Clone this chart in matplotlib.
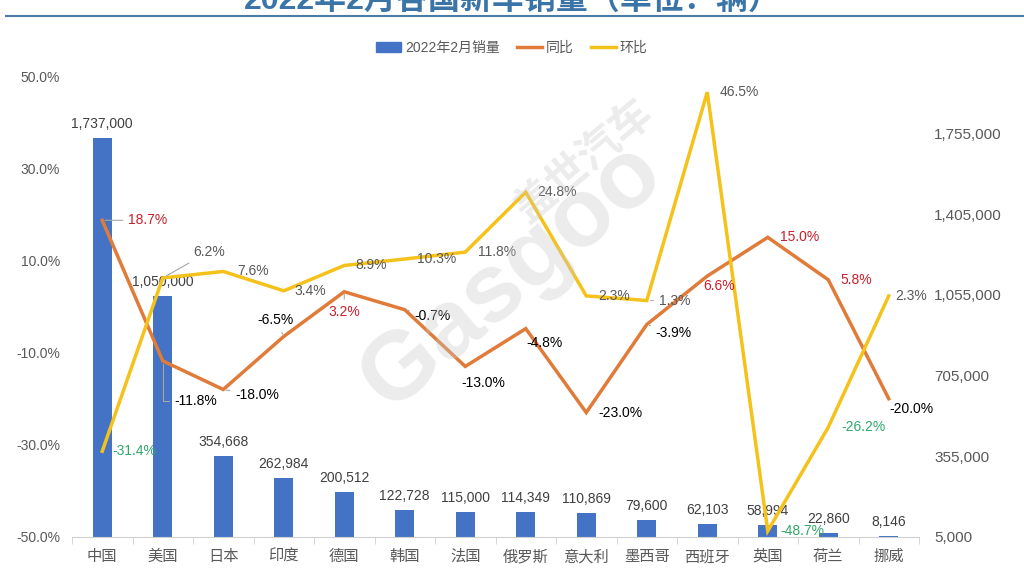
import numpy as np
import matplotlib
matplotlib.use('Agg')
import matplotlib.pyplot as plt
from matplotlib.lines import Line2D
from matplotlib.patches import Patch

plt.rcParams['font.family'] = ['Liberation Sans', 'Noto Sans CJK SC']

countries = ['中国', '美国', '日本', '印度', '德国', '韩国', '法国', '俄罗斯',
             '意大利', '墨西哥', '西班牙', '英国', '荷兰', '挪威']
sales = [1737000, 1050000, 354668, 262984, 200512, 122728, 115000, 114349,
         110869, 79600, 62103, 58994, 22860, 8146]
yoy = [18.7, -11.8, -18.0, -6.5, 3.2, -0.7, -13.0, -4.8, -23.0, -3.9, 6.6, 15.0, 5.8, -20.0]
mom = [-31.4, 6.2, 7.6, 3.4, 8.9, 10.3, 11.8, 24.8, 2.3, 1.3, 46.5, -48.7, -26.2, 2.3]

# label offsets in pixels (dx, dy, ha)
yoy_off = [(26, 0, 'left'), (12, -40, 'left'), (12, -6, 'left'), (-8, 16, 'center'),
           (0, -20, 'center'), (10, -6, 'left'), (18, -17, 'center'), (19, -14, 'center'),
           (12, 0, 'left'), (9, -9, 'left'), (12, -10, 'center'), (12, 0, 'left'),
           (12, 0, 'left'), (1, -10, 'left')]
mom_off = [(10, 0, 'left'), (30, 26, 'left'), (14, 0, 'left'), (11, 0, 'left'),
           (11, 0, 'left'), (12, 0, 'left'), (13, 0, 'left'), (11, 0, 'left'),
           (12, 0, 'left'), (12, 0, 'left'), (12, 0, 'left'), (13, 0, 'left'),
           (13, 0, 'left'), (7, 0, 'left')]
yoy_leader = {0, 1, 2, 3, 4, 5, 9}
mom_leader = {1, 9}

blue = '#4472C4'
orange = '#E07B39'
yellow = '#F5C21B'
grey = '#595959'

fig = plt.figure(figsize=(10.24, 5.76), dpi=100)

# title (cropped at top as in original)
fig.text(0.5, 1.0, '2022年2月各国新车销量（单位：辆）', ha='center', va='center',
         fontsize=23, fontweight='bold', color='#3B75A8')
fig.add_artist(Line2D([6 / 1024, 1.0], [1 - 16 / 576, 1 - 16 / 576],
                      color='#4A7BA6', lw=1.5))

ax = fig.add_axes([72 / 1024, 39 / 576, 847 / 1024, 461 / 576])
ax2 = ax.twinx()

x = np.arange(len(countries))
ax.bar(x, np.array(sales) - 5000, bottom=5000, width=0.31, color=blue)
for i, v in enumerate(sales):
    ax.annotate(f'{v:,}', (i, v), xytext=(0, 14), textcoords='offset pixels',
                ha='center', va='center', fontsize=10, color='#404040')

ax.set_xlim(-0.5, len(countries) - 0.5)
ax.set_ylim(5000, 2005000)
ax.yaxis.tick_right()
ax.set_yticks([5000, 355000, 705000, 1055000, 1405000, 1755000])
ax.set_yticklabels([f'{t:,}' for t in ax.get_yticks()])
ax.tick_params(axis='y', length=0, pad=11, labelsize=11, labelcolor=grey)
ax.set_xticks(x)
ax.set_xticklabels(countries, fontsize=11, color=grey)
ax.set_xticks(np.arange(-0.5, len(countries)), minor=True)
ax.tick_params(axis='x', which='major', length=0, pad=9)
ax.tick_params(axis='x', which='minor', length=5, color='#d0d0d0')
for s in ['top', 'left', 'right']:
    ax.spines[s].set_visible(False)
ax.spines['bottom'].set_color('#d0d0d0')

ax2.plot(x, yoy, color=orange, lw=2.5, solid_joinstyle='miter')
ax2.plot(x, mom, color=yellow, lw=2.5, solid_joinstyle='miter')
ax2.set_ylim(-50, 50)
ax2.yaxis.tick_left()
ax2.set_yticks([-50, -30, -10, 10, 30, 50])
ax2.set_yticklabels([f'{t:.1f}%' for t in [-50, -30, -10, 10, 30, 50]])
ax2.tick_params(axis='y', length=0, pad=8.5, labelsize=10, labelcolor=grey)
for s in ax2.spines.values():
    s.set_visible(False)

for i, v in enumerate(yoy):
    dx, dy, ha = yoy_off[i]
    col = '#C8202B' if v > 0 else '#000000'
    ap = None
    if i in yoy_leader:
        cs = 'angle,angleA=0,angleB=90,rad=0' if i == 1 else 'arc3'
        ap = dict(arrowstyle='-', color='#a6a6a6', lw=0.8, shrinkA=2, shrinkB=2,
                  connectionstyle=cs)
    ax2.annotate(f'{v:.1f}%', (i, v), xytext=(dx, dy), textcoords='offset pixels',
                 ha=ha, va='center', fontsize=10, color=col, arrowprops=ap)

for i, v in enumerate(mom):
    dx, dy, ha = mom_off[i]
    col = '#2FA86A' if v < 0 else grey
    ap = None
    if i in mom_leader:
        ap = dict(arrowstyle='-', color='#a6a6a6', lw=0.8, shrinkA=2, shrinkB=3)
    ax2.annotate(f'{v:.1f}%', (i, v), xytext=(dx, dy), textcoords='offset pixels',
                 ha=ha, va='center', fontsize=10, color=col, arrowprops=ap)

# watermark
fig.text(0.50, 0.52, 'Gasgoo', rotation=40, fontsize=70, fontweight='bold',
         color='#c8c8c8', alpha=0.35, ha='center', va='center')
fig.text(0.57, 0.72, '盖世汽车', rotation=40, fontsize=30, fontweight='bold',
         color='#c8c8c8', alpha=0.35, ha='center', va='center',
         family=['Noto Sans CJK SC'])

handles = [Patch(color=blue), Line2D([], [], color=orange, lw=2.5),
           Line2D([], [], color=yellow, lw=2.5)]
fig.legend(handles, ['2022年2月销量', '同比', '环比'], loc='center',
           bbox_to_anchor=(0.5, 1 - 48 / 576), ncol=3, frameon=False,
           fontsize=10, labelcolor=grey, handlelength=1.8, columnspacing=1.2,
           handletextpad=0.3)

fig.savefig('out.png', dpi=100)
